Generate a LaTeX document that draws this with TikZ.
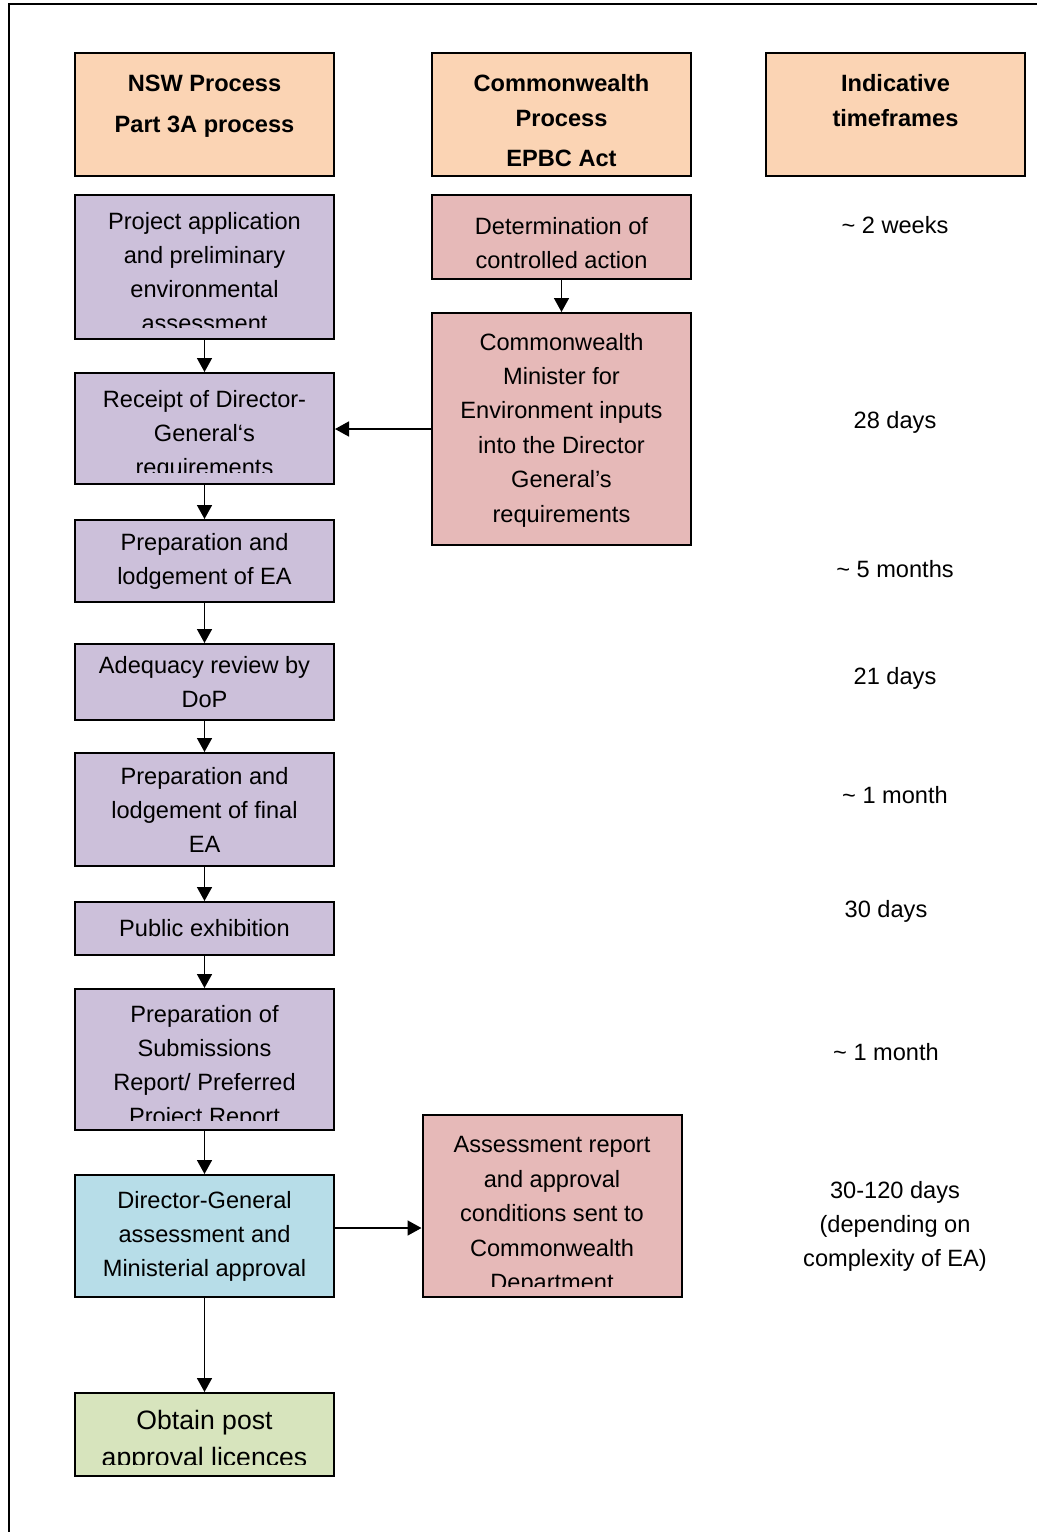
\documentclass[tikz,border=0pt]{standalone}
\usepackage{fontspec}
\setmainfont{Liberation Sans}
\usetikzlibrary{arrows.meta}

\definecolor{headfill}{HTML}{FBD4B4}
\definecolor{nswfill}{HTML}{CCC0DA}
\definecolor{cwfill}{HTML}{E6B9B8}
\definecolor{dgfill}{HTML}{B7DDE8}
\definecolor{postfill}{HTML}{D7E4BD}

\tikzstyle{stage} = [draw=black, line width=1pt, rectangle,
    minimum width=129.5pt, inner sep=0pt, align=center,
    font=\fontsize{11.8}{17}\selectfont]
\tikzstyle{headbox} = [stage, fill=headfill, minimum height=61.5pt]
\tikzstyle{nswbox} = [stage, fill=nswfill]
\tikzstyle{cwbox} = [stage, fill=cwfill]
\tikzstyle{boxtext} = [align=center, inner sep=0pt,
    font=\fontsize{11.8}{17}\selectfont]
\tikzstyle{headtext} = [boxtext, font=\bfseries\fontsize{11.8}{17.5}\selectfont]
\tikzstyle{flow} = [line width=0.8pt, -{Triangle[length=7pt,width=7.5pt]}]

\begin{document}
\begin{tikzpicture}[x=0.5pt, y=-0.5pt]
\useasboundingbox (0,0) rectangle (1037,1532);
\draw[line width=1pt] (1037,4) -- (9,4) -- (9,1532);

% column headers
\node[headbox] (nswhead) at (204.5,114.5) {};
\node[headtext] (nswhead-t) at (204.5,106.5) {NSW Process\\[3pt]Part 3A process};
\node[headbox] (cwhead) at (561.5,114.5) {};
\node[headtext] (cwhead-t) at (561.5,120.5) {Commonwealth\\Process\\[2.5pt]EPBC Act};
\node[headbox] (timehead) at (895.5,114.5) {};
\node[headtext] (timehead-t) at (895.5,100.5) {Indicative\\timeframes};

% NSW column
\node[nswbox, minimum height=72pt] (apply) at (204.5,267) {};
\begin{scope}
\clip ([yshift=6.5pt]apply.south west) rectangle (apply.north east);
\node[boxtext] (apply-t) at (204.5,272) {Project application\\and preliminary\\environmental\\assessment};
\end{scope}

\node[nswbox, minimum height=55.5pt] (dgreq) at (204.5,428.5) {};
\begin{scope}
\clip ([yshift=6.5pt]dgreq.south west) rectangle (dgreq.north east);
\node[boxtext] (dgreq-t) at (204.5,435) {Receipt of Director-\\General‘s\\requirements};
\end{scope}

\node[nswbox, minimum height=41pt] (prepea) at (204.5,561) {Preparation and\\lodgement of EA};
\node[nswbox, minimum height=38pt] (adequacy) at (204.5,682) {Adequacy review by\\DoP};
\node[nswbox, minimum height=56.5pt] (finalea) at (204.5,809.5) {Preparation and\\lodgement of final\\EA};
\node[nswbox, minimum height=26.5pt] (exhibit) at (204.5,928.5) {Public exhibition};

\node[nswbox, minimum height=70.5pt] (subrep) at (204.5,1059.5) {};
\begin{scope}
\clip ([yshift=5.5pt]subrep.south west) rectangle (subrep.north east);
\node[boxtext] (subrep-t) at (204.5,1067) {Preparation of\\Submissions\\Report/ Preferred\\Project Report};
\end{scope}

\node[stage, fill=dgfill, minimum height=61pt] (approval) at (204.5,1236) {Director-General\\assessment and\\Ministerial approval};

\node[stage, fill=postfill, minimum height=41.5pt] (licence) at (204.5,1434.5) {};
\begin{scope}
\clip ([yshift=6.5pt]licence.south west) rectangle (licence.north east);
\node[boxtext, font=\fontsize{13.3}{18.5}\selectfont] (licence-t) at (204.5,1441) {Obtain post\\approval licences};
\end{scope}

% Commonwealth column
\node[cwbox, minimum height=42pt] (controlled) at (561.5,237) {};
\node[boxtext] (controlled-t) at (561.5,243) {Determination of\\controlled action};
\node[cwbox, minimum height=116pt] (minister) at (561.5,429) {};
\node[boxtext, font=\fontsize{11.8}{17.2}\selectfont] (minister-t) at (561.5,430) {Commonwealth\\Minister for\\Environment inputs\\into the Director\\General’s\\requirements};

\node[cwbox, minimum height=91pt] (sentrep) at (552,1206) {};
\begin{scope}
\clip ([yshift=6pt]sentrep.south west) rectangle (sentrep.north east);
\node[boxtext, font=\fontsize{11.8}{17.2}\selectfont] (sentrep-t) at (552,1216) {Assessment report\\and approval\\conditions sent to\\Commonwealth\\Department};
\end{scope}

% timeframes
\node[boxtext] (t1) at (895,225) {\textasciitilde{} 2 weeks};
\node[boxtext] (t2) at (895,422) {28 days};
\node[boxtext] (t3) at (895,569) {\textasciitilde{} 5 months};
\node[boxtext] (t4) at (895,678) {21 days};
\node[boxtext] (t5) at (895,795) {\textasciitilde{} 1 month};
\node[boxtext] (t6) at (886,911) {30 days};
\node[boxtext] (t7) at (886,1052) {\textasciitilde{} 1 month};
\node[boxtext] (t8) at (895,1226) {30-120 days\\(depending on\\complexity of EA)};

% connectors
\draw[flow] (apply.south) -- (dgreq.north);
\draw[flow] (dgreq.south) -- (prepea.north);
\draw[flow] (prepea.south) -- (adequacy.north);
\draw[flow] (adequacy.south) -- (finalea.north);
\draw[flow] (finalea.south) -- (exhibit.north);
\draw[flow] (exhibit.south) -- (subrep.north);
\draw[flow] (subrep.south) -- (approval.north);
\draw[flow] (approval.south) -- (licence.north);
\draw[flow] (controlled.south) -- (minister.north);
\draw[flow] (minister.west) -- (minister.west -| dgreq.east);
\coordinate (approval-out) at ([yshift=4pt]approval.east);
\draw[flow] (approval-out) -- (approval-out -| sentrep.west);
\end{tikzpicture}
\end{document}
